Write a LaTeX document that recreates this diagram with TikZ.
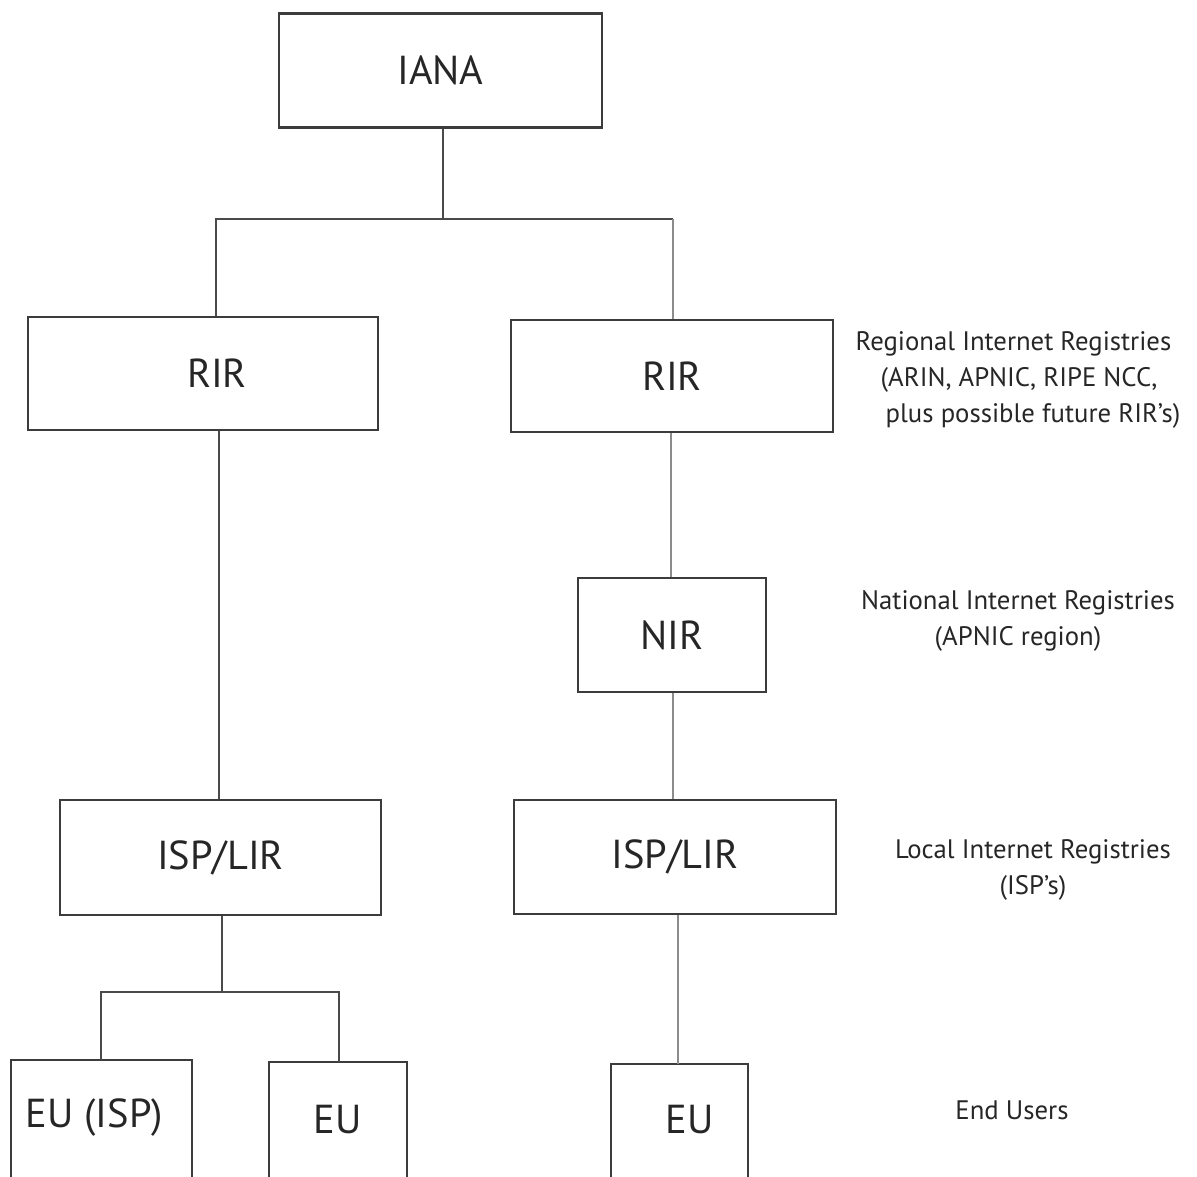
\documentclass[tikz,border=0pt]{standalone}
\usepackage{fontspec}
\setmainfont{PT Sans}
\usepackage{tikz}
\definecolor{boxline}{HTML}{3C3C3C}
\definecolor{darklink}{HTML}{4A4A4A}
\definecolor{lightlink}{HTML}{8C8C8C}
\definecolor{inktext}{HTML}{262626}

\begin{document}
\begin{tikzpicture}[x=0.01cm,y=-0.01cm,
  regbox/.style={draw=boxline,line width=0.7pt,inner sep=0pt,text=inktext,
    font=\fontsize{11.5}{14}\selectfont,minimum height=1.14cm},
  openbox/.style={inner sep=0pt,text=inktext,font=\fontsize{11.5}{14}\selectfont,
    minimum height=1.14cm},
  tierlabel/.style={inner sep=0pt,text=inktext,font=\fontsize{7.6}{10.3}\selectfont},
  link/.style={draw=darklink,line width=0.7pt},
  greylink/.style={draw=lightlink,line width=0.75pt}]
\useasboundingbox (0,0) rectangle (1197,1177);
\clip (0,0) rectangle (1197,1177);
\node[regbox,minimum width=3.23cm] (iana) at (440.5,70.5) {IANA};
\node[regbox,minimum width=3.50cm,minimum height=1.13cm] (rirL) at (203,373.5) {\hspace*{0.28cm}RIR};
\node[regbox,minimum width=3.22cm,minimum height=1.12cm] (rirR) at (672,376) {RIR};
\node[regbox,minimum width=1.88cm] (nir) at (672,635) {NIR};
\node[regbox,minimum width=3.21cm,minimum height=1.15cm] (lirL) at (220.5,857.5) {ISP/LIR};
\node[regbox,minimum width=3.22cm] (lirR) at (675,857) {ISP/LIR};
\node[openbox,minimum width=1.79cm] (euA) at (101.5,1118) {EU (ISP)\hspace*{0.14cm}};
\node[openbox,minimum width=1.36cm] (euB) at (338,1120) {EU};
\node[openbox,minimum width=1.35cm,minimum height=1.10cm] (euC) at (679.5,1120) {\hspace*{0.2cm}EU};
\foreach \eu in {euA,euB,euC}
  \draw[boxline,line width=0.7pt] ([yshift=-0.3cm]\eu.south west) -- (\eu.north west)
    -- (\eu.north east) -- ([yshift=-0.3cm]\eu.south east);

\node[tierlabel,anchor=west,align=left] (rirLab) at (855,380)
  {Regional Internet Registries\\\hspace*{2.5mm}(ARIN, APNIC, RIPE NCC,\\\hspace*{3.0mm}plus possible future RIR's)};
\node[tierlabel,align=center] (nirLab) at (1018,621) {National Internet Registries\\(APNIC region)};
\node[tierlabel,align=center] (lirLab) at (1033,870) {Local Internet Registries\\(ISP's)};
\node[tierlabel] (euLab) at (1012,1110) {End Users};

\coordinate (jTop) at (443,219);
\coordinate (jL) at (216,219);
\coordinate (jR) at (673,219);
\coordinate (cL) at (219,600);
\coordinate (cR1) at (671,500);
\coordinate (cR2) at (673,750);
\coordinate (jE) at (222,992);
\coordinate (jEa) at (101,992);
\coordinate (jEb) at (339,992);
\coordinate (cR3) at (678,990);
\draw[link] (iana.south -| jTop) -- (jTop);
\draw[link] (rirL.north -| jL) |- (jR);
\draw[greylink] (jR) -- (rirR.north -| jR);
\draw[link] (rirL.south -| cL) -- (lirL.north -| cL);
\draw[greylink] (rirR.south -| cR1) -- (nir.north -| cR1);
\draw[greylink] (nir.south -| cR2) -- (lirR.north -| cR2);
\draw[link] (lirL.south -| jE) -- (jE);
\draw[link] (euA.north -| jEa) |- (jEb) -- (euB.north -| jEb);
\draw[greylink] (lirR.south -| cR3) -- (euC.north -| cR3);
\end{tikzpicture}
\end{document}
